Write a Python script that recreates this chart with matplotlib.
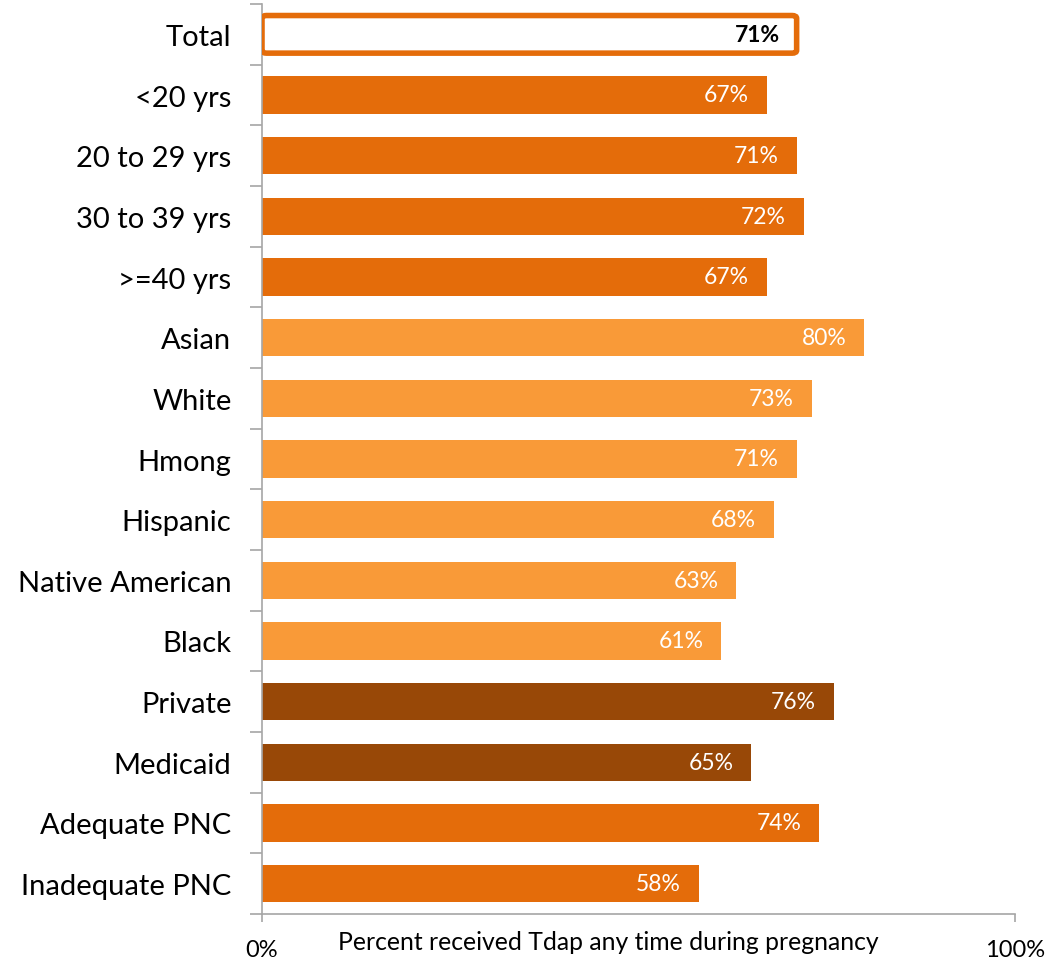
import matplotlib.pyplot as plt
from matplotlib.patches import FancyBboxPatch
import numpy as np

categories = ["Total", "<20 yrs", "20 to 29 yrs", "30 to 39 yrs", ">=40 yrs",
              "Asian", "White", "Hmong", "Hispanic", "Native American", "Black",
              "Private", "Medicaid", "Adequate PNC", "Inadequate PNC"]
values = [71, 67, 71, 72, 67, 80, 73, 71, 68, 63, 61, 76, 65, 74, 58]
groups = ["total", "age", "age", "age", "age", "race", "race", "race", "race",
          "race", "race", "ins", "ins", "pnc", "pnc"]
group_colors = {"total": "#FFFFFF", "age": "#E46C0A", "race": "#F99A38",
                "ins": "#984807", "pnc": "#E46C0A"}
xtick_labels = ["0%", "100%"]
xlabel = "Percent received Tdap any time during pregnancy"

plt.rcParams['font.family'] = ['Lato', 'DejaVu Sans']

fig = plt.figure(figsize=(10.62, 9.62), dpi=100)
ax = fig.add_axes([262/1062, 1 - 915/962, (1015 - 262)/1062, (915 - 5)/962])

n = len(categories)
y = np.arange(n)
colors = [group_colors[g] for g in groups]
bars = ax.barh(y, values, height=0.62, color=colors, zorder=2)

# Total bar: white fill with thick orange outline
tb = bars[0]
tb.set_visible(False)
fancy = FancyBboxPatch((0, tb.get_y()), values[0], tb.get_height(),
                       boxstyle="round,pad=0,rounding_size=0.6",
                       mutation_aspect=0.08,
                       facecolor="white", edgecolor="#E46C0A", linewidth=4.0,
                       zorder=3)
ax.add_patch(fancy)

for i, (b, v) in enumerate(zip(bars, values)):
    if i == 0:
        ax.annotate(f"{v}%", (v, b.get_y() + b.get_height()/2),
                    xytext=(-12, 0), textcoords="offset points",
                    ha="right", va="center", fontsize=16.5, fontweight="bold",
                    color="black", zorder=4)
    else:
        ax.annotate(f"{v}%", (v, b.get_y() + b.get_height()/2),
                    xytext=(-13, 0), textcoords="offset points",
                    ha="right", va="center", fontsize=16.5, color="white",
                    zorder=4)

ax.set_xlim(0, 100)
ax.set_ylim(n - 0.5, -0.5)

ax.set_yticks(y)
ax.set_yticklabels(categories, fontsize=21)
ax.set_yticks(np.arange(-0.5, n, 1), minor=True)
ax.tick_params(axis="y", which="major", length=0, pad=22)
ax.tick_params(axis="y", which="minor", length=9, color="#A6A6A6", width=1.2,
               direction="out")

ax.set_xticks([0, 100])
ax.set_xticklabels(xtick_labels, fontsize=17)
ax.tick_params(axis="x", length=6, color="#A6A6A6", width=1.2, pad=12)

for s in ["top", "right"]:
    ax.spines[s].set_visible(False)
for s in ["left", "bottom"]:
    ax.spines[s].set_color("#A6A6A6")
    ax.spines[s].set_linewidth(1.2)

fig.text(608/1062, 1 - 943/962, xlabel, ha="center", va="center", fontsize=17.8)

fig.savefig("out.png", dpi=100)
